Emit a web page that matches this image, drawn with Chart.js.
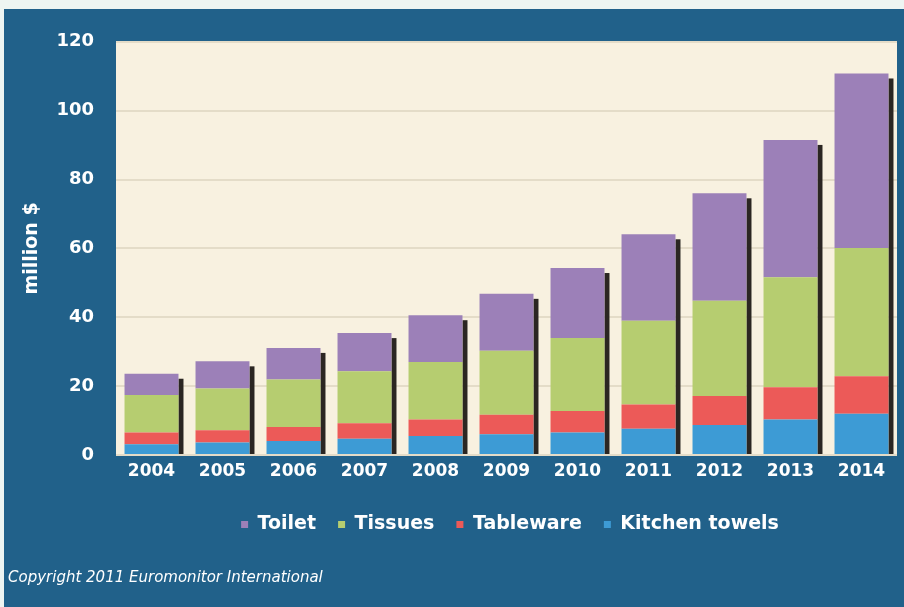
<!DOCTYPE html>
<html>
<head>
<meta charset="utf-8">
<script src="https://cdn.jsdelivr.net/npm/chart.js@4.4.1/dist/chart.umd.min.js"></script>
<style>
  html, body { margin: 0; padding: 0; background: #eef5f2; }
  #panel { position: absolute; left: 4px; top: 9px; width: 900px; height: 598px; background: #21618a; }
  #chart { display: block; }
  #copyright {
    position: absolute; left: 8px; top: 568px;
    font: italic 15px/18px 'DejaVu Sans', sans-serif; color: #ffffff;
  }
</style>
</head>
<body>
<div id="panel"><canvas id="chart" width="900" height="598"></canvas></div>
<div id="copyright">Copyright 2011 Euromonitor International</div>
<script>
// values (million $)
const years = ['2004', '2005', '2006', '2007', '2008', '2009', '2010', '2011', '2012', '2013', '2014'];
const kitchenTowels = [3.1, 3.6, 4.1, 4.7, 5.5, 6.0, 6.5, 7.6, 8.7, 10.3, 12.0];
const tableware = [3.4, 3.6, 4.0, 4.5, 4.8, 5.7, 6.3, 7.1, 8.4, 9.4, 10.9];
const tissues = [10.9, 12.1, 13.8, 15.1, 16.7, 18.6, 21.2, 24.3, 27.7, 31.9, 37.2];
const toilet = [6.2, 7.9, 9.2, 11.1, 13.6, 16.5, 20.3, 25.1, 31.2, 39.9, 50.7];

// cream plot background
const plotBackground = {
    id: 'plotBackground',
    beforeDraw(chart) {
        const { ctx, chartArea } = chart;
        ctx.save();
        ctx.fillStyle = '#f8f1e0';
        ctx.fillRect(chartArea.left, chartArea.top, chartArea.width, chartArea.height);
        ctx.restore();
    }
};

// dark shadow strip on the right of each stacked bar
const barShadow = {
    id: 'barShadow',
    beforeDatasetsDraw(chart) {
        const { ctx } = chart;
        const top = chart.getDatasetMeta(chart.data.datasets.length - 1).data;
        const bottom = chart.getDatasetMeta(0).data;
        ctx.save();
        ctx.fillStyle = '#2b2622';
        top.forEach((bar, i) => {
            const p = bar.getProps(['x', 'y', 'width'], true);
            const base = bottom[i].getProps(['base'], true).base;
            ctx.fillRect(p.x + p.width / 2, p.y + 5, 5, base - p.y - 5);
        });
        ctx.restore();
    }
};

// legend sits centred under the plot rather than the whole canvas
const legendShift = {
    id: 'legendShift',
    afterLayout(chart) {
        const shift = 51;
        chart.legend.left += shift;
        chart.legend.right += shift;
    }
};

const ctx = document.getElementById('chart').getContext('2d');
new Chart(ctx, {
    type: 'bar',
    data: {
        labels: years,
        datasets: [
            { label: 'Kitchen towels', data: kitchenTowels, backgroundColor: '#3d9bd5' },
            { label: 'Tableware', data: tableware, backgroundColor: '#ec5a58' },
            { label: 'Tissues', data: tissues, backgroundColor: '#b6cd70' },
            { label: 'Toilet', data: toilet, backgroundColor: '#9c80b8' }
        ]
    },
    options: {
        responsive: false,
        animation: false,
        layout: { padding: { top: 31, right: 7, left: 17, bottom: 63 } },
        datasets: { bar: { barPercentage: 0.76, categoryPercentage: 1.0 } },
        scales: {
            x: {
                stacked: true,
                grid: { display: false, drawTicks: false },
                border: { display: false },
                ticks: { color: '#ffffff', padding: 6, font: { family: 'DejaVu Sans', weight: 'bold', size: 17 } },
                afterFit(scale) { scale.height = 38; }
            },
            y: {
                stacked: true,
                min: 0,
                max: 120,
                grid: { color: '#e4dcc8', lineWidth: 2, drawTicks: false },
                border: { display: false },
                ticks: { stepSize: 20, color: '#ffffff', padding: 22, font: { family: 'DejaVu Sans', weight: 'bold', size: 18 } },
                title: {
                    display: true,
                    text: 'million $',
                    color: '#ffffff',
                    font: { family: 'DejaVu Sans', weight: 'bold', size: 19 },
                    padding: { top: 0, bottom: 0 }
                },
                afterFit(scale) { scale.width = 95; }
            }
        },
        plugins: {
            legend: {
                position: 'bottom',
                reverse: true,
                labels: {
                    color: '#ffffff',
                    boxWidth: 7,
                    boxHeight: 7,
                    padding: 22,
                    font: { family: 'DejaVu Sans', weight: 'bold', size: 19 }
                }
            },
            tooltip: { enabled: false }
        }
    },
    plugins: [plotBackground, barShadow, legendShift]
});
</script>
</body>
</html>
